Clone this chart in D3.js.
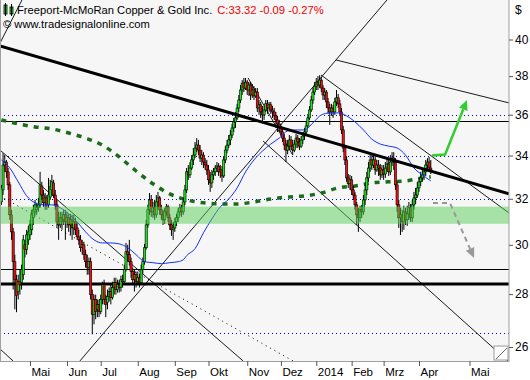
<!DOCTYPE html>
<html><head><meta charset="utf-8">
<script src="https://cdn.jsdelivr.net/npm/d3@7"></script>
<style>
html,body{margin:0;padding:0;background:#fff;}
svg{display:block;font-family:"Liberation Sans",Arial,sans-serif;}
</style></head><body>
<svg id="c" width="530" height="380"></svg>
<script>
// ---- data (daily bars, 8 Apr 2013 .. 10 Apr 2014) ----
const opens = [31.86,32.40,33.55,33.69,33.23,32.63,31.29,30.55,29.30,28.57,28.10,28.49,28.45,28.77,30.00,29.80,30.21,30.42,30.64,31.16,31.42,31.51,31.60,31.73,32.58,32.17,31.82,32.04,31.73,32.08,32.40,32.72,32.17,31.73,30.98,30.85,31.16,31.07,31.29,30.98,31.16,30.85,31.07,30.72,30.98,30.72,30.34,30.21,29.88,30.00,29.59,29.30,29.06,29.30,27.98,27.22,27.79,27.41,27.60,27.33,27.79,28.37,27.79,27.68,27.90,28.10,27.87,28.26,28.45,28.18,28.37,28.26,28.57,28.49,28.98,29.71,29.59,29.30,28.90,28.57,28.77,28.49,28.65,28.45,28.98,29.30,29.88,30.85,31.51,31.95,31.42,31.60,31.29,31.86,32.04,31.51,31.29,31.07,31.42,31.64,31.16,30.85,30.64,30.72,30.98,31.16,31.42,31.60,31.42,31.86,32.40,33.23,33.09,33.41,33.79,34.02,34.36,34.50,34.26,33.88,34.02,33.69,33.55,33.32,32.86,32.72,33.09,33.23,33.41,33.50,33.23,33.32,33.04,33.79,34.26,34.50,34.75,34.99,35.34,35.64,35.84,36.34,36.75,37.27,37.63,37.37,37.68,37.27,37.53,37.01,37.27,36.96,37.16,36.34,36.50,36.14,35.99,36.24,36.55,36.34,36.50,36.24,36.14,35.94,35.74,35.54,35.34,35.14,34.84,34.50,34.26,34.45,34.75,34.45,34.26,34.55,34.84,34.65,34.45,34.75,34.94,35.14,35.44,35.84,36.24,36.75,37.16,37.47,37.68,37.53,37.79,37.37,37.01,37.16,36.65,36.34,36.14,36.34,36.14,36.65,36.86,36.55,36.14,35.24,34.36,33.79,32.95,32.68,32.86,32.40,32.17,31.73,31.29,31.16,31.51,31.42,31.95,32.40,32.95,33.41,33.79,33.55,33.79,33.32,33.55,33.41,33.09,33.32,33.13,33.41,33.60,33.23,33.69,33.88,33.69,32.63,31.73,31.16,31.29,30.98,31.42,31.07,31.33,31.60,31.16,31.73,32.04,32.17,32.49,32.77,32.95,33.09,33.23,33.55,33.69,33.41];
const highs = [32.63,34.11,34.02,33.79,33.41,32.77,31.51,30.72,29.59,28.77,28.77,28.98,29.18,30.42,30.21,30.64,30.81,31.07,31.51,31.73,31.95,31.82,32.04,33.23,32.77,32.40,32.26,32.17,32.95,32.86,33.09,32.86,32.40,31.95,31.42,31.42,31.42,31.51,31.51,31.42,31.33,31.33,31.29,31.29,31.16,30.98,30.64,30.42,30.21,30.13,29.80,29.59,29.47,29.47,28.18,27.98,27.98,27.79,27.79,27.98,28.49,28.57,27.98,28.18,28.26,28.37,28.49,28.65,28.65,28.57,28.57,28.73,28.77,29.18,30.08,30.00,30.21,29.47,29.06,28.98,28.90,28.90,28.81,29.18,29.47,30.04,31.07,31.73,32.26,32.17,31.86,31.95,32.17,32.31,32.13,31.73,31.51,31.60,31.77,31.73,31.33,31.07,30.98,31.16,31.33,31.60,31.77,31.73,32.04,32.63,33.41,33.55,33.69,34.02,34.36,34.65,34.84,34.75,34.50,34.26,34.16,33.88,33.79,33.55,33.23,33.32,33.41,33.55,33.69,33.64,33.55,33.50,33.97,34.45,34.75,34.99,35.24,35.54,35.84,36.14,36.55,37.01,37.53,37.79,37.90,37.90,37.79,37.68,37.68,37.58,37.47,37.37,37.37,36.75,36.65,36.44,36.44,36.75,36.75,36.65,36.65,36.44,36.34,36.14,35.94,35.74,35.54,35.34,35.04,34.75,34.75,34.99,34.94,34.75,34.75,35.04,34.99,34.84,34.94,35.14,35.34,35.64,36.04,36.44,36.96,37.37,37.68,37.90,38.00,38.05,37.95,37.53,37.37,37.27,36.86,36.55,36.55,36.50,36.86,37.27,37.06,36.75,36.34,35.44,34.50,33.97,33.13,33.09,33.04,32.58,32.31,31.86,31.60,31.69,31.73,32.17,32.63,33.23,33.69,34.06,34.11,34.02,33.97,33.79,33.79,33.60,33.55,33.55,33.69,33.88,33.79,34.02,34.16,34.16,33.88,32.77,31.95,31.60,31.51,31.69,31.60,31.69,31.86,31.77,31.95,32.31,32.49,32.77,32.95,33.23,33.32,33.41,33.79,33.88,33.93,33.79];
const lows = [31.73,32.17,33.23,32.95,32.40,31.07,30.21,28.18,27.41,27.30,27.79,27.98,28.18,28.57,29.47,29.59,30.00,30.21,30.42,30.85,31.29,31.29,31.42,31.60,31.95,31.64,31.51,31.51,31.60,31.95,32.17,32.04,31.51,30.72,30.21,30.72,30.64,30.85,30.21,30.72,30.55,30.42,30.21,30.42,30.42,30.21,30.00,29.71,29.59,29.38,29.06,28.77,28.77,27.79,26.47,26.84,27.03,27.11,27.11,27.22,27.60,27.60,27.11,27.41,27.71,27.60,27.79,27.98,27.98,28.06,28.06,28.10,28.26,28.37,28.90,29.30,29.14,28.65,28.37,28.10,28.26,28.37,28.26,28.37,28.81,29.18,29.80,30.72,31.29,31.20,31.16,31.07,31.16,31.60,31.29,31.07,30.85,30.89,31.25,30.98,30.64,30.38,30.21,30.55,30.81,30.98,31.25,31.20,31.29,31.73,32.26,32.86,32.95,33.32,33.55,33.88,34.16,34.02,33.69,33.55,33.41,33.32,33.09,32.63,32.31,32.49,32.86,33.04,33.23,33.04,32.95,32.77,32.95,33.64,34.11,34.36,34.50,34.84,35.14,35.34,35.74,36.14,36.60,37.01,37.16,37.27,37.01,36.96,36.75,36.86,36.75,36.86,36.14,35.99,35.84,35.64,35.74,36.14,36.04,36.14,36.04,35.84,35.74,35.34,35.14,35.14,34.94,34.65,34.26,33.69,34.06,34.26,34.26,34.02,34.16,34.36,34.36,34.26,34.36,34.55,34.75,34.94,35.34,35.74,36.14,36.55,37.01,37.27,37.27,37.37,37.16,36.75,36.75,36.34,36.04,35.49,35.94,35.84,35.99,36.44,36.34,35.94,35.04,34.16,33.55,32.77,32.49,32.40,32.17,31.95,31.51,30.85,30.55,30.98,31.16,31.29,31.73,32.17,32.77,33.23,33.32,33.41,33.09,33.23,33.04,32.86,32.95,32.86,32.95,33.23,33.04,33.09,33.50,33.32,32.40,31.42,30.72,30.42,30.55,30.64,30.85,30.81,31.07,30.98,30.98,31.51,31.77,32.04,32.31,32.58,32.77,32.86,33.04,33.32,33.32,33.13];
const closes = [32.49,33.55,33.69,33.23,32.63,31.29,30.55,29.30,28.57,27.94,28.49,28.37,28.98,30.21,29.80,30.42,30.55,30.85,31.29,31.51,31.73,31.60,31.73,32.63,32.17,31.82,32.04,31.73,32.17,32.54,32.77,32.17,31.73,30.98,30.85,31.16,30.98,31.29,30.98,31.16,30.85,31.07,30.72,30.98,30.64,30.34,30.21,29.88,30.00,29.59,29.30,29.06,29.30,27.98,27.22,27.79,27.33,27.60,27.33,27.79,28.37,27.79,27.60,27.90,28.10,27.87,28.26,28.45,28.18,28.37,28.26,28.57,28.49,28.98,29.71,29.59,29.30,28.90,28.57,28.77,28.49,28.65,28.45,28.98,29.30,29.88,30.85,31.51,31.95,31.42,31.60,31.29,31.86,32.04,31.51,31.29,31.07,31.42,31.64,31.16,30.85,30.64,30.72,30.98,31.16,31.42,31.60,31.42,31.86,32.40,33.23,33.09,33.41,33.79,34.02,34.36,34.50,34.26,33.88,34.02,33.69,33.55,33.32,32.86,32.72,33.09,33.23,33.41,33.50,33.23,33.32,33.04,33.79,34.26,34.50,34.75,34.99,35.34,35.64,35.84,36.34,36.75,37.27,37.63,37.37,37.68,37.27,37.53,37.01,37.27,36.96,37.16,36.34,36.50,36.14,35.99,36.24,36.55,36.34,36.50,36.24,36.14,35.94,35.74,35.54,35.34,35.14,34.84,34.50,34.26,34.45,34.75,34.45,34.26,34.55,34.84,34.65,34.45,34.75,34.94,35.14,35.44,35.84,36.24,36.75,37.16,37.47,37.68,37.53,37.79,37.37,37.01,37.16,36.65,36.34,36.14,36.34,36.14,36.65,36.86,36.55,36.14,35.24,34.36,33.79,32.95,32.68,32.86,32.40,32.17,31.73,31.29,31.16,31.51,31.42,31.95,32.40,32.95,33.41,33.79,33.55,33.79,33.32,33.55,33.41,33.09,33.32,33.13,33.41,33.60,33.23,33.69,33.88,33.69,32.63,31.73,31.16,31.29,30.98,31.42,31.07,31.33,31.60,31.16,31.73,32.04,32.17,32.49,32.77,32.95,33.09,33.23,33.55,33.69,33.41,33.32];

const blueBars = [0,5,10,15,20,25,30,35,40,45,50,55,60,65,70,75,80,85,90,95,100,105,108,110,115,120,125,130,135,140,145,150,155,160,165,170,175,180,185,190,195,200,205,210,215,220,225,230,235,240,245,250,255];
const blueVals = [33.79,33.41,32.77,32.13,31.82,31.73,31.73,31.60,31.33,30.98,30.55,30.21,30.08,30.08,30.04,29.88,29.59,29.30,29.26,29.22,29.26,29.30,29.38,29.55,29.84,30.51,31.11,31.64,31.99,32.49,33.23,33.79,34.21,34.55,34.84,35.19,35.24,35.24,35.59,35.99,36.09,36.09,35.94,35.64,35.24,34.79,34.55,34.45,34.36,34.02,33.41,33.09,32.81];
const greenBars = [0,10,20,30,40,50,60,70,80,90,100,110,120,130,140,150,160,170,180,190,200,210,220,230,240,250,255];
const greenVals = [35.74,35.54,35.39,35.29,35.09,34.84,34.50,33.93,33.27,32.68,32.22,31.95,31.82,31.77,31.77,31.86,31.99,32.08,32.13,32.26,32.49,32.58,32.72,32.77,32.81,32.95,33.00];

// month axis
const monthLabels = ["Mai","Jun","Jul","Aug","Sep","Okt","Nov","Dez","2014","Feb","Mrz","Apr","Mai"];
const monthBars = [17,39,59,81,103,123,146,166,187,208,227,248,278];
const priceTicks = [26,28,30,32,34,36,38,40];

// horizontal levels
const dottedLevels = [36,34,32,26.5];
const thinLevels = [35.66,29.0];
const thickLevels = [28.4];
const zone = [30.9,31.65];

// trend lines: [bar1, price1, bar2, price2]
const thickTrend = [[-0.81,39.64,301.4,32.22]];
const thinTrends = [
  [46.7,25.50,229.0,42.28],
  [189.8,38.06,301.4,31.37],
  [198.7,38.87,301.4,36.60],
  [-0.81,34.26,143.5,25.50],
  [-0.81,25.93,6.9,25.50],
  [146.5,37.90,172.8,34.05],
  [155.4,34.70,301.4,25.46],
  [-0.81,39.80,12.25,42.28]
];
const dottedTrends = [[-0.81,32.13,173.2,25.50]];
// projection arrows [bar, price]
const upArrow = [[255.7,34.0],[263.5,34.05],[276.5,36.75]];
const downArrow = [[256.3,31.81],[266.4,31.81],[280.7,29.45]];

// ---- drawing ----
const svg = d3.select("#c");
const W = 509, H = 361;
const x = d3.scaleLinear().domain([0,255]).range([1.37,430.79]);
const y = d3.scaleLog().domain([26,40]).range([347,39.5]);

svg.append("defs").append("clipPath").attr("id","clip")
  .append("rect").attr("x",0).attr("y",0).attr("width",W).attr("height",H);

svg.append("rect").attr("x",0).attr("y",0).attr("width",W).attr("height",H).attr("fill","#f6f6f6");

const g = svg.append("g").attr("clip-path","url(#clip)");

// dotted levels
g.selectAll(".dl").data(dottedLevels).join("line")
  .attr("x1",0).attr("x2",W).attr("y1",d=>Math.round(y(d))+0.5).attr("y2",d=>Math.round(y(d))+0.5)
  .attr("stroke","#0000dd").attr("stroke-width",1).attr("stroke-dasharray","1,3");

// horizontal levels
g.selectAll(".tl").data(thinLevels).join("line")
  .attr("x1",0).attr("x2",W).attr("y1",d=>Math.round(y(d))+0.5).attr("y2",d=>Math.round(y(d))+0.5)
  .attr("stroke","#000").attr("stroke-width",1);
g.selectAll(".kl").data(thickLevels).join("line")
  .attr("x1",0).attr("x2",W).attr("y1",d=>y(d)).attr("y2",d=>y(d))
  .attr("stroke","#000").attr("stroke-width",3);

// trend lines
const seg = (sel, data, w, dash) => sel.selectAll(null).data(data).join("line")
  .attr("x1",d=>x(d[0])).attr("y1",d=>y(d[1])).attr("x2",d=>x(d[2])).attr("y2",d=>y(d[3]))
  .attr("stroke","#000").attr("stroke-width",w).attr("stroke-dasharray",dash||null);
seg(g, thinTrends, 0.9);
seg(g, dottedTrends, 1, "1,4");

// green MA (dashed thick)
const lineGen = d3.line().x(d=>x(d[0])).y(d=>y(d[1])).curve(d3.curveMonotoneX);
g.append("path").datum(greenBars.map((b,i)=>[b,greenVals[i]]))
  .attr("d",lineGen).attr("fill","none").attr("stroke","#1a6b1a").attr("stroke-width",3.5).attr("stroke-dasharray","5,6");

// candles
const bars = d3.range(closes.length).map(i=>({i,o:opens[i],h:highs[i],l:lows[i],c:closes[i]}));
const cg = g.append("g");
cg.selectAll("line").data(bars).join("line")
  .attr("x1",d=>x(d.i)).attr("x2",d=>x(d.i)).attr("y1",d=>y(d.h)).attr("y2",d=>y(d.l))
  .attr("stroke","#000").attr("stroke-width",1);
cg.selectAll("rect").data(bars).join("rect")
  .attr("x",d=>x(d.i)-1.1).attr("width",2.2)
  .attr("y",d=>y(Math.max(d.o,d.c)))
  .attr("height",d=>Math.max(1,Math.abs(y(d.o)-y(d.c))))
  .attr("fill",d=>d.c>=d.o?"#19e619":"#ee1111")
  .attr("stroke","#000").attr("stroke-width",0.6);

// blue MA
g.append("path").datum(blueBars.map((b,i)=>[b,blueVals[i]]))
  .attr("d",lineGen).attr("fill","none").attr("stroke","#1030ff").attr("stroke-width",1);

// thick trend line
seg(g, thickTrend, 3);

// zone band (translucent, over candles)
g.append("rect").attr("x",0).attr("width",W)
  .attr("y",y(zone[1])).attr("height",y(zone[0])-y(zone[1]))
  .attr("fill","#55cc55").attr("opacity",0.5);

// arrows
function arrow(pts, color, dash, w){
  const p = pts.map(d=>[x(d[0]),y(d[1])]);
  const n = p.length;
  const a = p[n-2], b = p[n-1];
  const ang = Math.atan2(b[1]-a[1], b[0]-a[0]);
  const L = 10, hw = 4.5;
  const bx = b[0]-L*Math.cos(ang), by = b[1]-L*Math.sin(ang);
  const pp = p.slice(0,n-1).concat([[bx,by]]);
  g.append("path").attr("d",d3.line()(pp)).attr("fill","none").attr("stroke",color)
    .attr("stroke-width",w).attr("stroke-dasharray",dash||null);
  const tri = [[b[0],b[1]],[bx+hw*Math.sin(ang),by-hw*Math.cos(ang)],[bx-hw*Math.sin(ang),by+hw*Math.cos(ang)]];
  g.append("path").attr("d",d3.line()(tri)+"Z").attr("fill",color);
}
arrow(upArrow,"#33cc33",null,2.5);
arrow(downArrow,"#999999","5,4",2);

// frame
svg.append("rect").attr("x",0.5).attr("y",-1).attr("width",W-0.5).attr("height",H+1.5)
  .attr("fill","none").attr("stroke","#a0a0a0").attr("stroke-width",1);

// resize grip
svg.append("rect").attr("x",W-15).attr("y",H-15).attr("width",14).attr("height",14).attr("fill","#fff").attr("stroke","#999");
svg.append("line").attr("x1",W-13).attr("y1",H-2).attr("x2",W-2).attr("y2",H-13).attr("stroke","#666");

// right axis
const ya = svg.append("g").attr("transform",`translate(${W},0)`)
  .call(d3.axisRight(y).tickValues(priceTicks).tickFormat(d3.format("d")).tickSize(4).tickPadding(2));
ya.select(".domain").remove();
ya.selectAll("line").attr("stroke","#555");
ya.selectAll("text").attr("font-size",12).attr("fill","#000").attr("font-family","Liberation Sans, Arial, sans-serif");
svg.append("text").attr("x",515).attr("y",14).attr("font-size",12).attr("fill","#000").text("$");

// bottom axis
const xa = svg.append("g").attr("transform",`translate(0,${H})`)
  .call(d3.axisBottom(x).tickValues(monthBars).tickFormat((d,i)=>monthLabels[i]).tickSize(5).tickPadding(2));
xa.select(".domain").remove();
xa.selectAll("line").attr("stroke","#555");
xa.selectAll("text").attr("text-anchor","start").attr("dx",1).attr("font-size",11.5).attr("fill","#000")
  .attr("font-family","Liberation Sans, Arial, sans-serif");

// header
const hd = svg.append("g");
hd.append("rect").attr("x",4).attr("y",5).attr("width",3).attr("height",9).attr("fill","#19e619").attr("stroke","#000").attr("stroke-width",0.8);
hd.append("line").attr("x1",5.5).attr("x2",5.5).attr("y1",3).attr("y2",16).attr("stroke","#000");
hd.append("rect").attr("x",10).attr("y",7).attr("width",3).attr("height",7).attr("fill","#19e619").attr("stroke","#000").attr("stroke-width",0.8);
hd.append("line").attr("x1",11.5).attr("x2",11.5).attr("y1",4).attr("y2",16).attr("stroke","#000");
const t1 = hd.append("text").attr("x",17).attr("y",14).attr("font-size",11.2).attr("fill","#000");
t1.append("tspan").text("Freeport-McMoRan Copper & Gold Inc.");
t1.append("tspan").attr("dx",5).attr("fill","#ee0000").text("C:33.32 -0.09 -0.27%");
hd.append("text").attr("x",3).attr("y",28).attr("font-size",11.2).attr("fill","#000").text("© www.tradesignalonline.com");
</script>
</body></html>
